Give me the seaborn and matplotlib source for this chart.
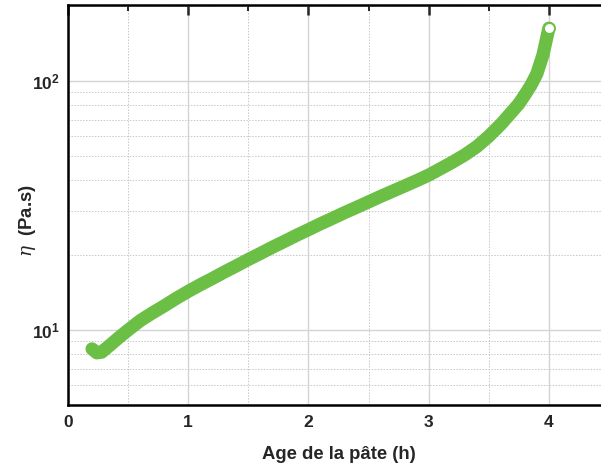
"""Viscosity of the paste vs. age (log scale)."""
import matplotlib
matplotlib.use("Agg")
import matplotlib.pyplot as plt
import matplotlib.ticker as mticker
import numpy as np
import seaborn as sns

# values
age_h = [0.20, 0.24, 0.28, 0.35, 0.42, 0.50, 0.60, 0.70, 0.80, 0.90,
         1.00, 1.10, 1.20, 1.30, 1.40, 1.50, 1.60, 1.70, 1.80, 1.90,
         2.00, 2.10, 2.20, 2.30, 2.40, 2.50, 2.60, 2.70, 2.80, 2.90,
         3.00, 3.10, 3.20, 3.30, 3.40, 3.50, 3.60, 3.70, 3.75, 3.80,
         3.85, 3.90, 3.95, 4.00]
eta_pas = [8.4, 8.1, 8.15, 8.7, 9.3, 10.0, 10.9, 11.7, 12.5, 13.4,
           14.3, 15.2, 16.1, 17.1, 18.1, 19.2, 20.3, 21.5, 22.7, 24.0,
           25.3, 26.7, 28.1, 29.6, 31.1, 32.7, 34.4, 36.1, 37.9, 39.8,
           41.9, 44.5, 47.3, 50.5, 54.5, 60.0, 67.0, 76.0, 81.0, 88.0,
           96.0, 107.0, 127.0, 163.0]

GREEN = "#6cbf45"

sns.set_style("white")
plt.rcParams["font.family"] = ["Liberation Sans", "DejaVu Sans"]
plt.rcParams["mathtext.fontset"] = "custom"
plt.rcParams["mathtext.bf"] = "Liberation Sans:bold"
plt.rcParams["mathtext.it"] = "DejaVu Serif:italic"

fig = plt.figure(figsize=(6.01, 4.66), dpi=100)
ax = fig.add_axes([68 / 601, 61 / 466, 541 / 601, 400 / 466])

sns.lineplot(x=age_h, y=eta_pas, ax=ax, color=GREEN, lw=9.5,
             solid_capstyle="round", solid_joinstyle="round", zorder=3)
ax.scatter(age_h[-1:], eta_pas[-1:], s=62, facecolor="white",
           edgecolor=GREEN, linewidth=1.4, zorder=4)

ax.set_yscale("log")
ax.set_xlim(0, 4.5)
ax.set_ylim(5, 202)

ax.xaxis.set_major_locator(mticker.MultipleLocator(1))
ax.xaxis.set_minor_locator(mticker.MultipleLocator(0.5))
ax.yaxis.set_major_locator(mticker.LogLocator(base=10))
ax.yaxis.set_minor_locator(mticker.LogLocator(base=10, subs=np.arange(2, 10)))
ax.yaxis.set_major_formatter(
    mticker.FuncFormatter(lambda v, p: r"$\mathbf{10^{%d}}$" % round(np.log10(v))))
ax.yaxis.set_minor_formatter(mticker.NullFormatter())

ax.grid(which="major", color="#d4d4d4", lw=1.0, ls="-", zorder=0)
ax.grid(which="minor", color="#c8c8c8", lw=0.7, ls=(0, (1.5, 1.5)), zorder=0)
ax.set_axisbelow(True)

for side in ["left", "bottom", "top"]:
    ax.spines[side].set_linewidth(1.8)
    ax.spines[side].set_color("black")
ax.spines["right"].set_visible(False)

ax.tick_params(which="major", direction="in", length=7, width=1.8,
               top=True, labelsize=12.5, pad=7)
ax.tick_params(which="minor", direction="in", length=4, width=1.4, top=True)
ax.tick_params(axis="y", which="major", length=8, pad=6)
for lab in ax.get_xticklabels():
    lab.set_fontweight("bold")

ax.set_xlabel("Age de la pâte (h)", fontsize=13.3, fontweight="bold", labelpad=12)
ax.set_ylabel(r"$\it{\eta}$  (Pa.s)", fontsize=13.3, fontweight="bold")
ax.yaxis.set_label_coords(-0.056, 0.46)

fig.savefig("out.png", dpi=100)
plt.close(fig)
